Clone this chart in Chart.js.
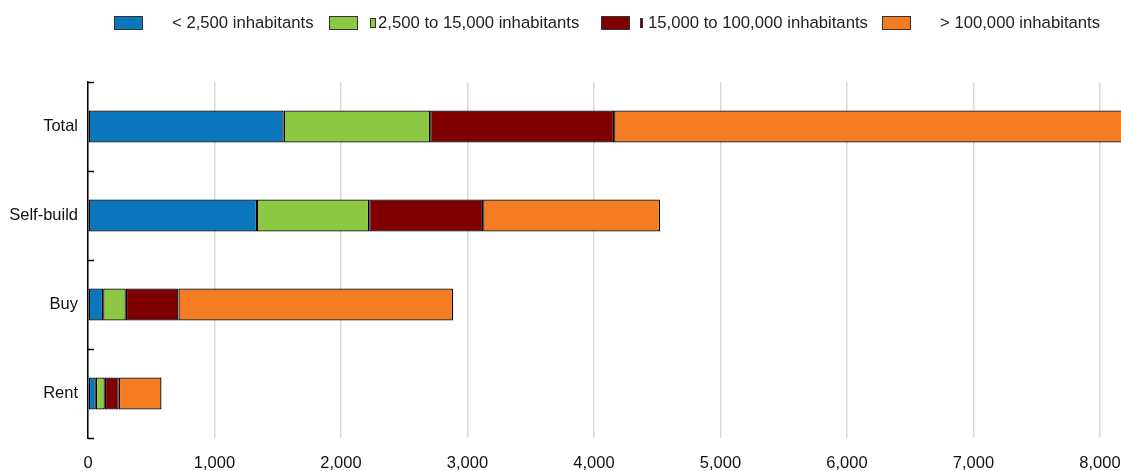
<!DOCTYPE html>
<html>
<head>
<meta charset="utf-8">
<script src="https://cdn.jsdelivr.net/npm/chart.js@4/dist/chart.umd.min.js"></script>
<style>
  html, body { margin: 0; padding: 0; background: #fff; }
  #wrap { position: relative; width: 1121px; height: 471px; }
  #chart { position: absolute; left: 0; top: 0; }
  .lg-box { position: absolute; top: 16px; width: 27px; height: 12px; border: 1px solid #333; }
  .lg-mark { position: absolute; top: 18px; width: 3px; height: 8px; border: 1px solid #333; }
  .lg-text { position: absolute; top: 13px; font: 16.7px 'Liberation Sans', Arial, sans-serif; color: #222; white-space: nowrap; }
</style>
</head>
<body>
<div id="wrap">
  <canvas id="chart" width="1121" height="471"></canvas>
  <div id="legend"></div>
</div>
<script>
// Chart data
const categories = ['Total', 'Self-build', 'Buy', 'Rent'];
const seriesNames = ['< 2,500 inhabitants', '2,500 to 15,000 inhabitants', '15,000 to 100,000 inhabitants', '> 100,000 inhabitants'];
const under2500 = [1547, 1336, 120, 62];
const from2500to15000 = [1158, 887, 179, 71];
const from15000to100000 = [1454, 901, 416, 110];
const over100000 = [4100, 1398, 2172, 338];
const xTicks = [0, 1000, 2000, 3000, 4000, 5000, 6000, 7000, 8000];

const colors = ['#0A77BD', '#8CC841', '#7F0000', '#F47D23'];
const seriesData = [under2500, from2500to15000, from15000to100000, over100000];

// Legend (drawn as html so the spacing can follow the original)
const legendBoxX = [114, 329, 601, 882];
const legendTextX = [172, 378, 648, 940];
const legend = document.getElementById('legend');
seriesNames.forEach(function (name, i) {
    const box = document.createElement('div');
    box.className = 'lg-box';
    box.style.left = legendBoxX[i] + 'px';
    box.style.background = colors[i];
    legend.appendChild(box);
    // small stray markers seen in the original legend
    if (i === 1 || i === 2) {
        const mark = document.createElement('div');
        mark.className = 'lg-mark';
        mark.style.left = (legendTextX[i] - 8) + 'px';
        mark.style.width = (i === 1 ? 4 : 1) + 'px';
        mark.style.background = colors[i];
        legend.appendChild(mark);
    }
    const txt = document.createElement('div');
    txt.className = 'lg-text';
    txt.style.left = legendTextX[i] + 'px';
    txt.textContent = name;
    legend.appendChild(txt);
});

// short inward ticks on the category axis
const categoryTicks = {
    id: 'categoryTicks',
    afterDraw(chart) {
        const y = chart.scales.y;
        const ctx = chart.ctx;
        ctx.save();
        ctx.strokeStyle = '#000';
        ctx.lineWidth = 1.5;
        for (let i = 0; i <= categories.length; i++) {
            const py = Math.round(y.getPixelForValue(i - 0.5)) + 0.5;
            ctx.beginPath();
            ctx.moveTo(y.right, py);
            ctx.lineTo(y.right + 6, py);
            ctx.stroke();
        }
        ctx.restore();
    }
};

Chart.defaults.font.family = "'Liberation Sans', Arial, sans-serif";
Chart.defaults.font.size = 16.5;
Chart.defaults.color = '#111';

new Chart(document.getElementById('chart').getContext('2d'), {
    type: 'bar',
    data: {
        labels: categories,
        datasets: seriesData.map(function (d, i) {
            return {
                label: seriesNames[i],
                data: d,
                backgroundColor: colors[i],
                borderColor: '#000',
                borderWidth: 1.3,
                borderSkipped: false,
                categoryPercentage: 1,
                barPercentage: 0.36
            };
        })
    },
    options: {
        indexAxis: 'y',
        responsive: false,
        animation: false,
        layout: { padding: { top: 82, right: 0, left: 0, bottom: 0 } },
        plugins: {
            legend: { display: false },
            tooltip: { enabled: false }
        },
        scales: {
            x: {
                stacked: true,
                min: 0,
                max: 8166,
                afterBuildTicks: function (axis) {
                    axis.ticks = xTicks.map(function (v) { return { value: v }; });
                },
                afterFit: function (axis) {
                    axis.height = 33;
                    axis.paddingLeft = 0;
                    axis.paddingRight = 0;
                },
                grid: { color: '#D9D9D9', lineWidth: 1.5, drawTicks: false },
                border: { display: false },
                ticks: {
                    padding: 16,
                    callback: function (v) { return v.toLocaleString('en-US'); }
                }
            },
            y: {
                stacked: true,
                afterFit: function (axis) { axis.width = 88; },
                grid: { display: false, drawTicks: false },
                border: { display: true, color: '#000', width: 1.5 },
                ticks: { padding: 10 }
            }
        }
    },
    plugins: [categoryTicks]
});
</script>
</body>
</html>
